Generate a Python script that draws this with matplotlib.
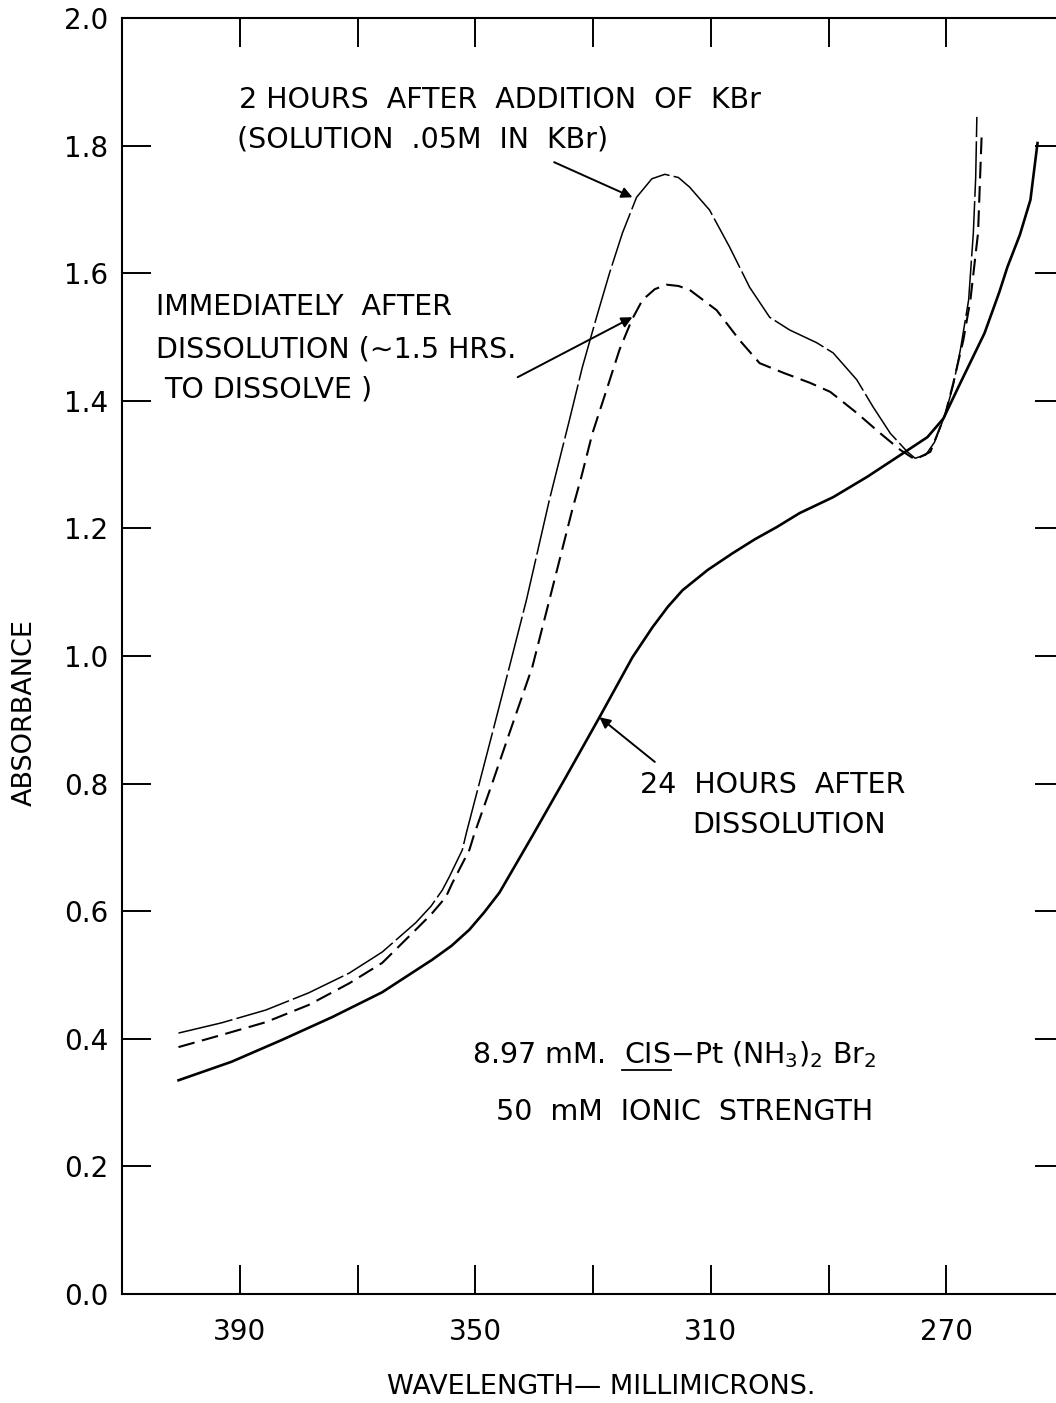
import matplotlib
matplotlib.use("Agg")
import matplotlib.pyplot as plt
from matplotlib.lines import Line2D

plt.rcParams['font.family'] = ['DejaVu Sans']
plt.rcParams['lines.scale_dashes'] = False
plt.rcParams['mathtext.fontset'] = 'dejavusans'

# ---------------- data ----------------
wl_kbr = [400.4, 393.1, 385.6, 378.3, 371.4, 365.8, 360.1, 357.5, 355.6, 354.4,
          352.2, 351.5, 349.3, 347.1, 344.2, 341.3, 337.4, 334.0, 331.8, 329.4,
          327.2, 325.0, 322.6, 320.0, 317.8, 315.5, 313.6, 310.2, 306.8, 303.4,
          300.0, 296.6, 292.0, 289.2, 285.2, 282.4, 279.5, 276.6, 275.3, 273.5,
          272.0, 270.2, 268.8, 267.6, 266.2, 265.4, 265.0, 264.8]
abs_kbr = [0.409, 0.425, 0.445, 0.472, 0.503, 0.536, 0.582, 0.608, 0.633, 0.654,
           0.696, 0.723, 0.801, 0.879, 0.983, 1.088, 1.245, 1.370, 1.453, 1.531,
           1.600, 1.663, 1.719, 1.748, 1.755, 1.750, 1.735, 1.699, 1.641, 1.578,
           1.531, 1.511, 1.491, 1.475, 1.433, 1.390, 1.349, 1.320, 1.310, 1.315,
           1.335, 1.378, 1.425, 1.480, 1.558, 1.663, 1.750, 1.845]

wl_imm = [400.4, 393.1, 385.6, 378.3, 371.4, 365.8, 360.1, 357.5, 355.0, 353.9,
          351.0, 350.2, 347.1, 344.2, 340.3, 337.4, 333.5, 332.0, 330.1, 327.7,
          325.5, 323.4, 321.6, 319.5, 317.5, 315.5, 313.6, 309.0, 305.1, 301.7,
          297.7, 293.1, 289.7, 285.2, 281.2, 277.8, 275.3, 272.7, 270.2, 268.8,
          267.1, 265.9, 264.6, 264.0]
abs_imm = [0.387, 0.406, 0.426, 0.453, 0.487, 0.519, 0.571, 0.595, 0.622, 0.644,
           0.696, 0.720, 0.801, 0.879, 0.983, 1.088, 1.230, 1.280, 1.349, 1.417,
           1.480, 1.527, 1.558, 1.575, 1.582, 1.580, 1.574, 1.542, 1.495, 1.459,
           1.444, 1.428, 1.414, 1.381, 1.349, 1.323, 1.308, 1.320, 1.378, 1.428,
           1.495, 1.558, 1.663, 1.813]

wl_24h = [400.4, 391.4, 382.9, 374.3, 365.8, 357.3, 354.0, 351.0, 348.5, 345.9,
          340.3, 334.5, 328.9, 323.3, 319.9, 317.3, 314.8, 310.5, 306.3, 302.5,
          298.8, 294.9, 289.2, 283.4, 277.3, 273.2, 270.5, 267.6, 263.5, 261.0,
          259.6, 257.5, 255.7, 254.5]
abs_24h = [0.335, 0.364, 0.398, 0.434, 0.473, 0.524, 0.546, 0.571, 0.598, 0.629,
           0.718, 0.812, 0.904, 0.998, 1.045, 1.077, 1.103, 1.135, 1.161, 1.183,
           1.202, 1.224, 1.249, 1.281, 1.318, 1.343, 1.372, 1.428, 1.506, 1.570,
           1.610, 1.660, 1.715, 1.804]

x_ticks = [390, 370, 350, 330, 310, 290, 270]
x_ticklabels = ['390', '', '350', '', '310', '', '270']
y_ticks = [0.0, 0.2, 0.4, 0.6, 0.8, 1.0, 1.2, 1.4, 1.6, 1.8, 2.0]
y_ticklabels = ['0.0', '0.2', '0.4', '0.6', '0.8', '1.0', '1.2', '1.4', '1.6', '1.8', '2.0']

# ---------------- figure ----------------
W, H = 1056, 1403
fig = plt.figure(figsize=(W / 100, H / 100), dpi=100)
left_px, right_px, top_px, bot_px = 122, 1064, 18, 1294
ax = fig.add_axes([left_px / W, 1 - bot_px / H, (right_px - left_px) / W, (bot_px - top_px) / H])

ax.plot(wl_24h, abs_24h, color='black', lw=1.9, solid_joinstyle='round')
ax.plot(wl_imm, abs_imm, color='black', lw=1.5, linestyle=(0, (12, 5.5)))
ax.plot(wl_kbr, abs_kbr, color='black', lw=1.1, linestyle=(0, (40, 3)))

ax.set_xlim(410, 250)
ax.set_ylim(0, 2.0)
ax.set_xticks(x_ticks)
ax.set_xticklabels(x_ticklabels)
ax.set_yticks(y_ticks)
ax.set_yticklabels(y_ticklabels)
ax.tick_params(direction='in', length=21, width=1.4, top=True, right=True,
               labelsize=20, pad=10)
ax.tick_params(axis='x', pad=17)
for s in ax.spines.values():
    s.set_linewidth(1.5)

fs = 20.5
txt = dict(fontsize=fs, ha='left', va='center', color='black')
ax.text(390.2, 1.871, '2 HOURS  AFTER  ADDITION  OF  KBr', **txt)
ax.text(390.5, 1.809, '(SOLUTION  .05M  IN  KBr)', **txt)
ax.text(404.3, 1.547, 'IMMEDIATELY  AFTER', **txt)
ax.text(404.3, 1.480, 'DISSOLUTION (\u223c1.5 HRS.', **txt)
ax.text(402.9, 1.417, 'TO DISSOLVE )', **txt)
ax.text(322.1, 0.798, '24  HOURS  AFTER', **txt)
ax.text(313.1, 0.735, 'DISSOLUTION', **txt)

x0, y0 = 350.5, 0.375
ax.text(x0, y0, r'8.97 mM.  CIS$-$Pt (NH$_3$)$_2$ Br$_2$', **txt)
ax.text(346.4, 0.285, '50  mM  IONIC  STRENGTH', **txt)

# underline under "CIS"
fig.canvas.draw()
r = fig.canvas.get_renderer()
t1 = ax.text(x0, y0, '8.97 mM.  ', **txt)
t2 = ax.text(x0, y0, '8.97 mM.  CIS', **txt)
e1 = t1.get_window_extent(r)
e2 = t2.get_window_extent(r)
t1.remove(); t2.remove()
inv = ax.transData.inverted()
xa = inv.transform((e1.x1 - 2, 0))[0]
xb = inv.transform((e2.x1, 0))[0]
yu = inv.transform((0, e2.y0 - 1))[1]
ax.add_line(Line2D([xa, xb], [yu, yu], color='black', lw=1.3))

ap = dict(arrowstyle='-|>', color='black', lw=1.4, mutation_scale=16,
          shrinkA=0, shrinkB=0)
ax.annotate('', xy=(323.3, 1.719), xytext=(336.6, 1.774), arrowprops=ap)
ax.annotate('', xy=(323.3, 1.531), xytext=(342.8, 1.437), arrowprops=ap)
ax.annotate('', xy=(328.9, 0.904), xytext=(319.5, 0.834), arrowprops=ap)

fig.text(601 / W, 1 - 1387 / H, 'WAVELENGTH\u2014 MILLIMICRONS.', fontsize=19.5,
         ha='center', va='center')
fig.text(25 / W, 1 - 713 / H, 'ABSORBANCE', fontsize=19.5, rotation=90,
         ha='center', va='center')

fig.savefig('out.png', dpi=100)
